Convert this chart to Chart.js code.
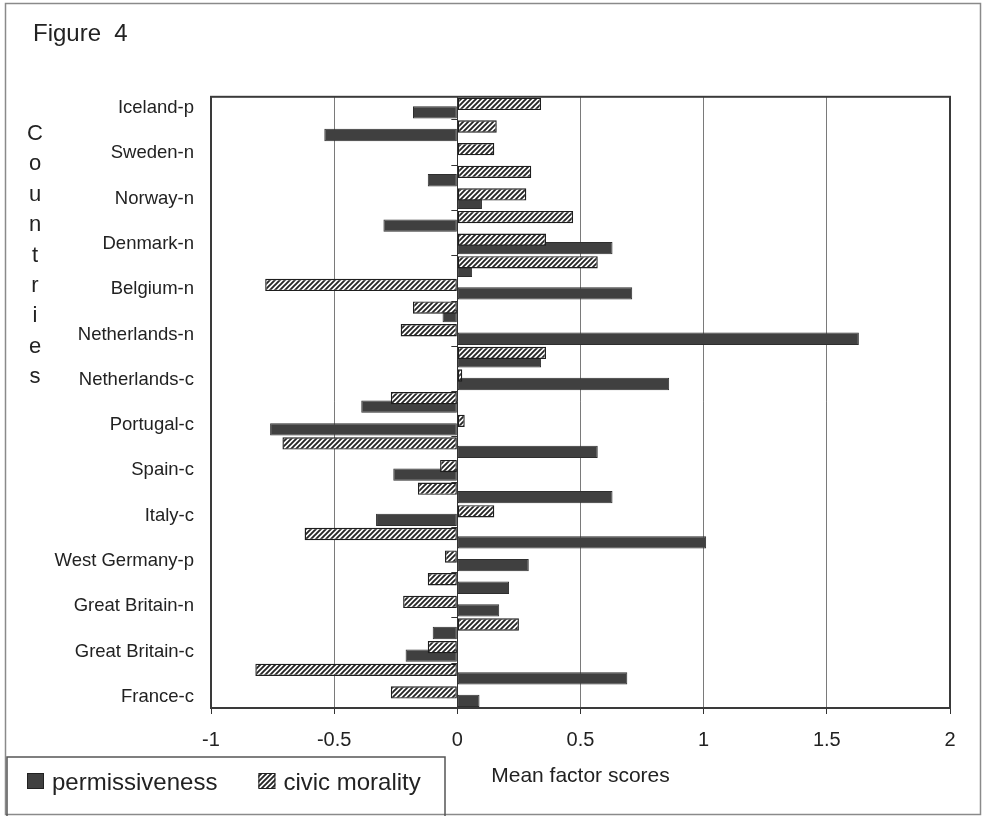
<!DOCTYPE html>
<html>
<head>
<meta charset="utf-8">
<title>Figure 4</title>
<script src="https://cdn.jsdelivr.net/npm/chart.js@4.4.1/dist/chart.umd.min.js"></script>
<style>
  html, body { margin: 0; padding: 0; background: #ffffff; }
  #wrap { width: 983px; height: 816px; position: relative; }
</style>
</head>
<body>
<div id="wrap"><canvas id="figureChart"></canvas></div>
<script>
// categories top to bottom, only every other one is labelled in the original
const categories = [
  "Iceland-p", "", "Sweden-n", "", "Norway-n", "", "Denmark-n", "",
  "Belgium-n", "", "Netherlands-n", "", "Netherlands-c", "", "Portugal-c", "",
  "Spain-c", "", "Italy-c", "", "West Germany-p", "", "Great Britain-n", "",
  "Great Britain-c", "", "France-c"
];

const permissiveness = [
  -0.18, -0.54, 0, -0.12, 0.1, -0.3, 0.63, 0.06, 0.71, -0.06, 1.63, 0.34, 0.86, -0.39,
  -0.76, 0.57, -0.26, 0.63, -0.33, 1.01, 0.29, 0.21, 0.17, -0.1, -0.21, 0.69, 0.09
];

const civicMorality = [
  0.34, 0.16, 0.15, 0.3, 0.28, 0.47, 0.36, 0.57, -0.78, -0.18, -0.23, 0.36, 0.02, -0.27,
  0.03, -0.71, -0.07, -0.16, 0.15, -0.62, -0.05, -0.12, -0.22, 0.25, -0.12, -0.82, -0.27
];

const xTicks = [-1, -0.5, 0, 0.5, 1, 1.5, 2];

const FONT = "'Liberation Sans', Arial, Helvetica, sans-serif";
const INK = "#222222";
const DARK_BAR = "#404040";

function makeHatch() {
  const size = 5;
  const c = document.createElement("canvas");
  c.width = size;
  c.height = size;
  const g = c.getContext("2d");
  g.fillStyle = "#ffffff";
  g.fillRect(0, 0, size, size);
  g.strokeStyle = "#262626";
  g.lineWidth = 1.9;
  g.beginPath();
  g.moveTo(-1, size + 1);
  g.lineTo(size + 1, -1);
  g.moveTo(-1, 1);
  g.lineTo(1, -1);
  g.moveTo(size - 1, size + 1);
  g.lineTo(size + 1, size - 1);
  g.stroke();
  return g.createPattern(c, "repeat");
}

const hatch = makeHatch();

const figureDecor = {
  id: "figureDecor",
  beforeDatasetsDraw(chart) {
    const { ctx, scales } = chart;
    const x0 = scales.x.getPixelForValue(0);
    ctx.save();
    ctx.strokeStyle = "#333333";
    ctx.lineWidth = 1;
    // small category ticks on the zero line, every second boundary
    for (let j = 0; j < categories.length - 1; j += 2) {
      const y = Math.round((scales.y.getPixelForValue(j) + scales.y.getPixelForValue(j + 1)) / 2) + 0.5;
      ctx.beginPath();
      ctx.moveTo(x0 - 6, y);
      ctx.lineTo(x0, y);
      ctx.stroke();
    }
    ctx.restore();
  },
  afterDraw(chart) {
    const { ctx, chartArea } = chart;
    ctx.save();

    // outer frame of the figure
    ctx.strokeStyle = "#8a8a8a";
    ctx.lineWidth = 1.5;
    ctx.strokeRect(5.5, 3.5, 975, 811);

    // plot area frame
    ctx.strokeStyle = "#3a3a3a";
    ctx.lineWidth = 2;
    ctx.strokeRect(chartArea.left, chartArea.top, chartArea.right - chartArea.left, chartArea.bottom - chartArea.top);

    // stacked axis title
    ctx.fillStyle = INK;
    ctx.font = `22px ${FONT}`;
    ctx.textAlign = "center";
    ctx.textBaseline = "alphabetic";
    "Countries".split("").forEach((letter, i) => {
      ctx.fillText(letter, 35, 140 + i * 30.4);
    });

    // legend box at the bottom left
    ctx.strokeStyle = "#555555";
    ctx.lineWidth = 1.5;
    ctx.strokeRect(7, 757, 438, 80);

    ctx.font = `24px ${FONT}`;
    ctx.textAlign = "left";
    ctx.textBaseline = "middle";
    let x = 27;
    [1, 0].forEach((i) => {
      const ds = chart.data.datasets[i];
      ctx.fillStyle = ds.backgroundColor;
      ctx.fillRect(x, 773, 17, 16);
      ctx.strokeStyle = "#222222";
      ctx.lineWidth = 1;
      ctx.strokeRect(x + 0.5, 773.5, 16, 15);
      ctx.fillStyle = INK;
      ctx.fillText(ds.label, x + 25, 783);
      x += 25 + ctx.measureText(ds.label).width + 41;
    });

    ctx.restore();
  }
};

const ctx = document.getElementById("figureChart").getContext("2d");

new Chart(ctx, {
  type: "bar",
  data: {
    labels: categories,
    datasets: [
      {
        label: "civic morality",
        data: civicMorality,
        backgroundColor: hatch,
        borderColor: "#1e1e1e",
        borderWidth: 1.4,
        borderSkipped: false
      },
      {
        label: "permissiveness",
        data: permissiveness,
        backgroundColor: DARK_BAR,
        borderColor: "#2e2e2e",
        borderWidth: 1,
        borderSkipped: false
      }
    ]
  },
  options: {
    indexAxis: "y",
    responsive: true,
    maintainAspectRatio: false,
    animation: false,
    categoryPercentage: 0.75,
    barPercentage: 1.45,
    layout: {
      padding: { left: 33, right: 33, top: 10, bottom: 10 }
    },
    plugins: {
      legend: { display: false },
      tooltip: { enabled: true },
      title: {
        display: true,
        text: "Figure  4",
        align: "start",
        color: INK,
        font: { family: FONT, size: 24, weight: "normal" },
        padding: { top: 10, bottom: 48 }
      }
    },
    scales: {
      x: {
        type: "linear",
        min: -1,
        max: 2,
        afterBuildTicks(scale) {
          scale.ticks = xTicks.map((v) => ({ value: v }));
        },
        afterFit(scale) {
          scale.height = 98;
        },
        ticks: {
          color: INK,
          padding: 14,
          font: { family: FONT, size: 20 },
          callback: (v) => String(v)
        },
        grid: {
          color: (c) => (c.tick && c.tick.value === 0 ? "#333333" : "#7a7a7a"),
          lineWidth: 1,
          tickLength: 6,
          tickColor: "#333333"
        },
        border: { color: "#3a3a3a", width: 2 },
        title: {
          display: true,
          text: "Mean factor scores",
          color: INK,
          font: { family: FONT, size: 21 },
          padding: { top: 11, bottom: 17 }
        }
      },
      y: {
        afterFit(scale) {
          scale.width = 178;
        },
        ticks: {
          autoSkip: false,
          color: INK,
          padding: 9,
          font: { family: FONT, size: 18.5 }
        },
        grid: { display: false },
        border: { color: "#3a3a3a", width: 2 }
      }
    }
  },
  plugins: [figureDecor]
});
</script>
</body>
</html>
